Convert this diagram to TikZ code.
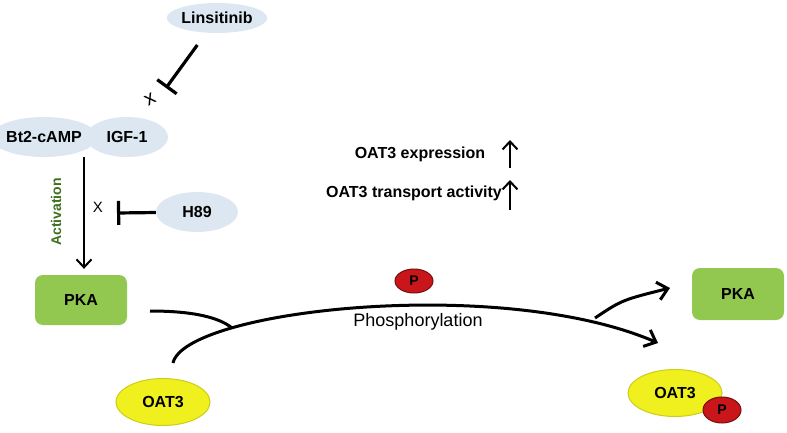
\documentclass[tikz,border=0pt]{standalone}
\usepackage{fontspec}
\setmainfont{Liberation Sans}
\usetikzlibrary{arrows.meta, shapes.geometric}

\definecolor{agentblue}{RGB}{220,231,241}
\definecolor{pkagreen}{RGB}{146,200,80}
\definecolor{oatyellow}{RGB}{240,240,30}
\definecolor{phosred}{RGB}{200,22,26}
\definecolor{actgreen}{RGB}{62,112,30}

\tikzset{
    agent/.style={ellipse, fill=agentblue, minimum width=82pt, minimum height=40pt, inner sep=0pt,
        font=\fontsize{16}{18}\selectfont\bfseries},
    kinase/.style={rectangle, rounded corners=8pt, fill=pkagreen, minimum width=92pt, minimum height=50pt,
        font=\fontsize{16}{18}\selectfont\bfseries},
    transporter/.style={ellipse, fill=oatyellow, draw=oatyellow!85!black, line width=1pt,
        minimum width=94pt, minimum height=47pt, inner sep=0pt, font=\fontsize{16}{18}\selectfont\bfseries},
    phospho/.style={ellipse, fill=phosred, draw=phosred!60!black, line width=1pt,
        minimum width=38pt, minimum height=26pt, inner sep=0pt, font=\fontsize{14}{16}\selectfont\bfseries},
    readout/.style={font=\fontsize{16}{18}\selectfont\bfseries, inner sep=0pt},
    inhibit/.style={-{Bar[width=24pt]}, line width=3.2pt},
    act/.style={-{Straight Barb[length=8pt,width=15pt]}, line width=2pt},
    flow/.style={-{Straight Barb[length=10pt,width=18pt]}, line width=3pt},
}

\begin{document}
\begin{tikzpicture}[x=1pt, y=-1pt]
    \useasboundingbox (0,0) rectangle (787,433);

    % Agents
    \node[agent, minimum height=30pt] (lins) at (217,18) {Linsitinib};
    \node[agent, minimum width=86pt] (bt2) at (44,137) {Bt2-cAMP};
    \node[agent] (igf) at (127,137) {IGF-1};
    \node[agent] (h89) at (197,212) {H89};

    % Kinase
    \node[kinase] (pkaL) at (81,300) {PKA};
    \node[kinase, minimum height=52pt] (pkaR) at (738,294) {PKA};

    % Transporter
    \node[transporter] (oatL) at (163,402) {OAT3};
    \node[transporter] (oatR) at (675,393) {OAT3};
    \node[phospho] (pR) at (722,410) {P};
    \node[phospho, minimum height=24pt] (pTop) at (414,281) {P};

    % Inhibition
    \coordinate (linsBlock) at (166,88);
    \coordinate (h89Block) at (117,213);
    \draw[inhibit, shorten <=15pt] (lins) -- (linsBlock);
    \draw[inhibit] (h89) -- (h89Block);
    \node[rotate=30, font=\fontsize{20}{22}\selectfont] (xLins) at (150,99) {x};
    \node[font=\fontsize{15}{17}\selectfont] (xH89) at (98,207) {X};

    % Activation
    \coordinate (actTop) at (84,157);
    \draw[act, shorten >=6pt] (actTop) -- (actTop |- pkaL.north);
    \node[rotate=90, text=actgreen, font=\fontsize{14}{16}\selectfont\bfseries] (actLabel) at (56,212) {Activation};

    % Phosphorylation
    \coordinate (arcStart) at (173,363);
    \coordinate (arcEnd) at (658,343);
    \coordinate (pkaIn) at (150,311);
    \coordinate (arcJoin) at (232,328);
    \coordinate (pkaOut) at (595,318);
    \coordinate (pkaTip) at (670,288);
    \draw[flow] (arcStart) .. controls (185,310) and (500,275) .. (arcEnd);
    \draw[line width=3pt] (pkaIn) .. controls (195,311) and (220,318) .. (arcJoin);
    \draw[flow] (pkaOut) .. controls (622,300) .. (pkaTip);
    \node[font=\fontsize{18}{20}\selectfont] (phosLabel) at (418,322) {Phosphorylation};

    % Readouts
    \node[readout] (expr) at (420,154) {OAT3 expression};
    \node[readout] (trans) at (414,193) {OAT3 transport activity};
    \coordinate (exprLow) at (510,168);
    \coordinate (exprHigh) at (510,140);
    \coordinate (transLow) at (510,210);
    \coordinate (transHigh) at (510,180);
    \draw[act] (exprLow) -- (exprHigh);
    \draw[act] (transLow) -- (transHigh);
\end{tikzpicture}
\end{document}
